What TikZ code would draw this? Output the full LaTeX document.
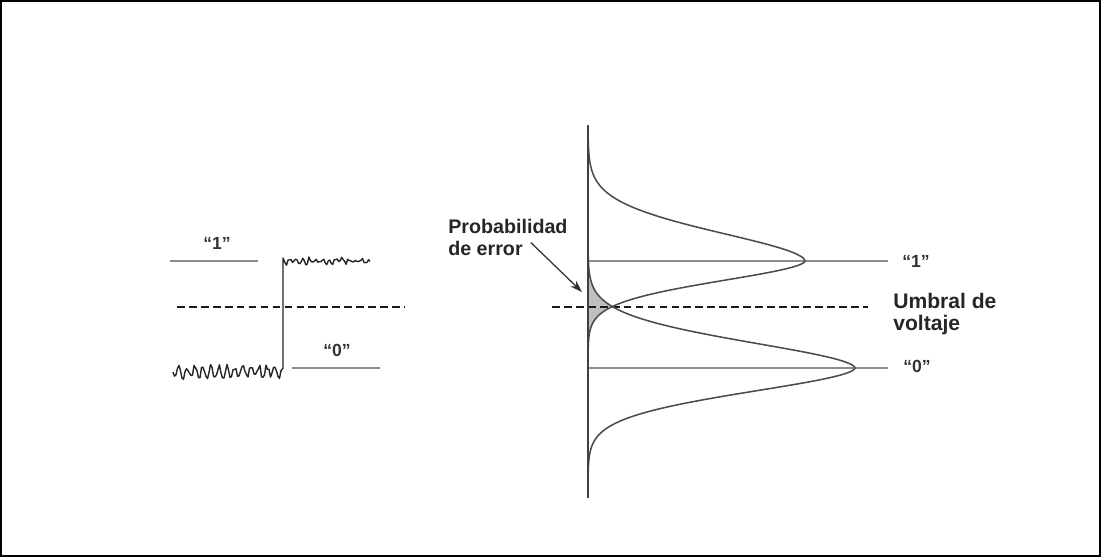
\documentclass[tikz,border=0pt]{standalone}
\usepackage{xcolor}
\usepackage{fontspec}
\setmainfont{Liberation Sans}
\usepackage{tikz}
\usetikzlibrary{arrows.meta, positioning}

\begin{document}
\begin{tikzpicture}[
    x=0.025cm, y=-0.025cm,
    level/.style={draw=black!45, line width=1.4pt},
    noisy/.style={draw=black!85, line width=1pt, line join=round},
    threshold/.style={draw=black!90, line width=1.3pt, dash pattern=on 5.5pt off 3pt},
    pdf/.style={draw=black!70, line width=1.1pt},
    axisline/.style={draw=black!75, line width=1.1pt},
    bit/.style={font=\fontsize{12.5}{14}\selectfont\bfseries, text=black!80, inner sep=0pt},
    note/.style={font=\fontsize{15}{15.6}\selectfont\bfseries, text=black!85, align=left, inner sep=0pt},
    arrow/.style={-{Stealth[length=3mm, width=2mm]}, line width=0.9pt, black!80}
]
\useasboundingbox (0,0) rectangle (1101,557);
\draw[line width=1.5pt] (1,1) rectangle (1100,556);

% received signal with noise
\pgfmathsetseed{11}
\draw[level] (170,261) -- (258,261);
\draw[level] (292,368) -- (380,368);
\draw[threshold] (177,307) -- (405,307);
\draw[noisy] plot[domain=0:108, samples=73] ({173+\x}, {372 + 5.5*sin(45*\x) + 3*rand})
    -- (283,368) -- (283,258)
    -- plot[domain=0:85, samples=58] ({285+\x}, {261 + 2.5*sin(55*\x) + 2*rand});
\node[bit] (one1) at (217,243) {“1”};
\node[bit] (zero1) at (337,350) {“0”};

% probability densities
\fill[black!25] (588,274)
    -- plot[domain=-94:-61, samples=30] ({588 + 267*exp(-((-\x)/37.8)^1.8)}, {368 + \x})
    -- plot[domain=46:76, samples=25] ({588 + 217*exp(-(\x/29.5)^1.8)}, {261 + \x})
    -- (588,337) -- cycle;
\draw[level] (588,261) -- (888,261);
\draw[level] (588,368) -- (888,368);
\draw[threshold] (552,307) -- (868,307);
\draw[pdf] plot[domain=-130:0, samples=100] ({588 + 217*exp(-((abs(\x)+0.001)/41.7)^1.8)}, {261 + \x});
\draw[pdf] plot[domain=0:130, samples=100] ({588 + 217*exp(-((abs(\x)+0.001)/29.5)^1.8)}, {261 + \x});
\draw[pdf] plot[domain=-130:0, samples=100] ({588 + 267*exp(-((abs(\x)+0.001)/37.8)^1.8)}, {368 + \x});
\draw[pdf] plot[domain=0:130, samples=100] ({588 + 267*exp(-((abs(\x)+0.001)/35)^1.8)}, {368 + \x});
\draw[axisline] (588,125) -- (588,497);
\node[bit] (one2) at (916,261) {“1”};
\node[bit] (zero2) at (917,366) {“0”};
\node[note, anchor=west] (umbral) at (893,314) {Umbral de\\voltaje};
\node[note, anchor=west, font=\fontsize{14}{15.6}\selectfont\bfseries] (perr) at (448,237) {Probabilidad\\de error};
\coordinate (errarea) at (582,292);
\draw[arrow] (perr.south east) ++(-37,-13) -- (errarea);
\end{tikzpicture}
\end{document}
